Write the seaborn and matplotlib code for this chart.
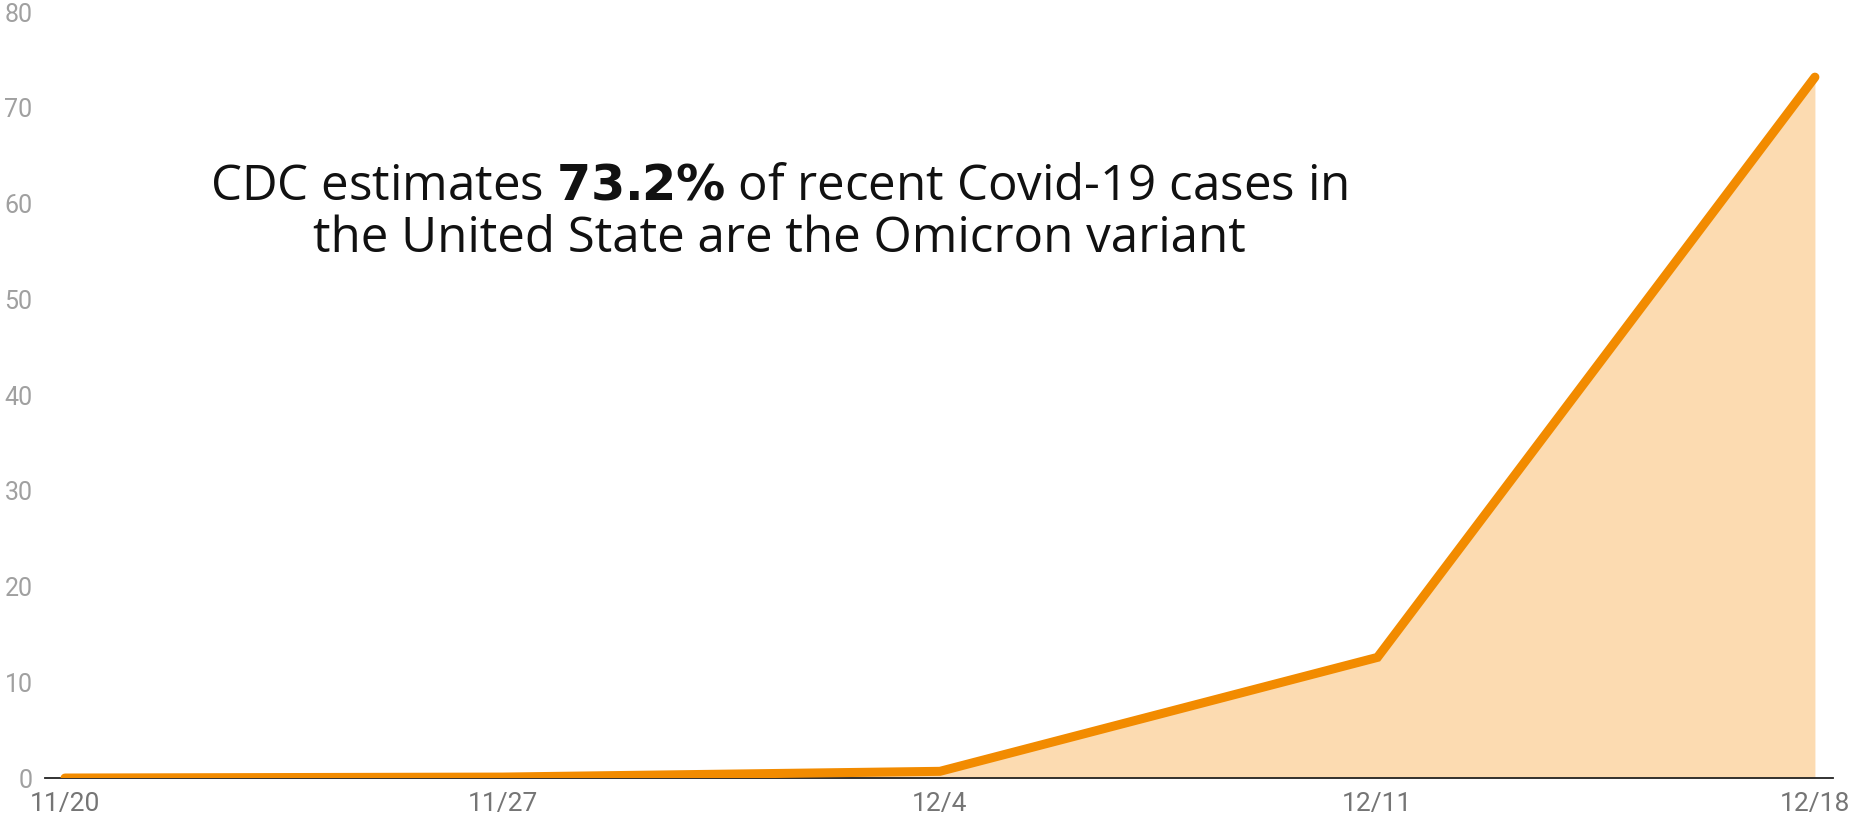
import numpy as np
import pandas as pd
import seaborn as sns
import matplotlib.pyplot as plt

# share of recent US Covid-19 cases estimated to be Omicron (%)
dates = ["11/20", "11/27", "12/4", "12/11", "12/18"]
days = [0, 7, 14, 21, 28]
omicron_pct = [0.0, 0.1, 0.7, 12.6, 73.2]
y_ticks = [0, 10, 20, 30, 40, 50, 60, 70, 80]

df = pd.DataFrame({"day": days, "pct": omicron_pct, "date": dates})

sns.set_style("white")
plt.rcParams["font.family"] = ["Roboto", "DejaVu Sans"]

fig = plt.figure(figsize=(18.51, 8.17), dpi=100)
ax = fig.add_axes([0.0243, 0.0477, 0.966, 0.9376])

line_color = "#f28b00"
fill_color = "#fcdbb1"

ax.fill_between(df["day"], df["pct"], 0, color=fill_color, linewidth=0, zorder=1)
sns.lineplot(data=df, x="day", y="pct", ax=ax, color=line_color, linewidth=6.5,
             solid_capstyle="round", solid_joinstyle="miter", zorder=3)

ax.set_xlim(-0.32, 28.29)
ax.set_ylim(0, 80)
ax.set_xticks(days)
ax.set_xticklabels(dates)
ax.set_yticks(y_ticks)
ax.set_xlabel("")
ax.set_ylabel("")

ax.tick_params(axis="x", length=0, pad=10, labelsize=19, labelcolor="#757575")
ax.tick_params(axis="y", length=0, pad=9, labelsize=18, labelcolor="#a0a0a0")

for s in ["top", "right", "left"]:
    ax.spines[s].set_visible(False)
ax.spines["bottom"].set_color("#222222")
ax.spines["bottom"].set_linewidth(1.3)
ax.spines["bottom"].set_zorder(2)

# annotation text, with the figure in bold
ax.text(0.4106, 0.772, "CDC estimates $\\bf{73.2\\%}$ of recent Covid-19 cases in",
        transform=ax.transAxes, ha="center", va="center", fontsize=35.5,
        family=["Open Sans", "DejaVu Sans"], color="#111111")
ax.text(0.4106, 0.703, "the United State are the Omicron variant",
        transform=ax.transAxes, ha="center", va="center", fontsize=35.5,
        family=["Open Sans", "DejaVu Sans"], color="#111111")

fig.savefig("out.png", dpi=100, facecolor="white")
